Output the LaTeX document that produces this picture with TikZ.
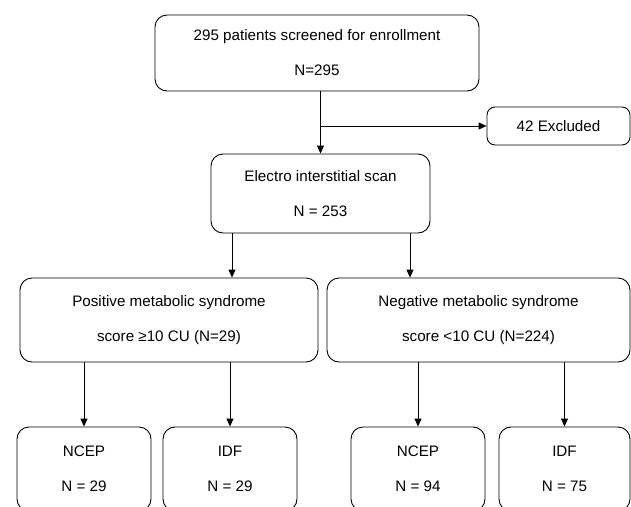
\documentclass[tikz,border=0pt]{standalone}
\usepackage{fontspec}
\setmainfont{Liberation Sans}
\usetikzlibrary{arrows.meta}
\usetikzlibrary{calc}

\begin{document}
\begin{tikzpicture}[x=1pt, y=-1pt,
  box/.style={draw, rounded corners=12pt, line width=.9pt, align=center, inner sep=0pt,
              font=\fontsize{15.2}{17.5}\selectfont},
  flow/.style={->, >={Triangle[length=8pt,width=7pt]}, line width=.9pt}]
\useasboundingbox (0,0) rectangle (631,506);
% screening
\node[box, minimum width=324pt, minimum height=76pt] (screen) at (317,53)
  {295 patients screened for enrollment\\[17.5pt]N=295};
\node[box, rounded corners=8pt, minimum width=143pt, minimum height=38pt] (excl) at (558.5,126)
  {42 Excluded};
\node[box, minimum width=219pt, minimum height=79pt] (scan) at (320.5,193.5)
  {Electro interstitial scan\\[17.5pt]N = 253};
% syndrome score
\node[box, minimum width=298pt, minimum height=84pt] (pos) at (169,320)
  {Positive metabolic syndrome\\[17.5pt]score ≥10 CU (N=29)};
\node[box, minimum width=303pt, minimum height=84pt] (neg) at (478.5,320)
  {Negative metabolic syndrome\\[17.5pt]score <10 CU (N=224)};
% criteria
\node[box, minimum width=134pt, minimum height=84pt] (ncepA) at (84,469)  {NCEP\\[17.5pt]N = 29};
\node[box, minimum width=134pt, minimum height=84pt] (idfA)  at (230,469) {IDF\\[17.5pt]N = 29};
\node[box, minimum width=134pt, minimum height=84pt] (ncepB) at (418,469) {NCEP\\[17.5pt]N = 94};
\node[box, minimum width=131pt, minimum height=84pt] (idfB)  at (564.5,469) {IDF\\[17.5pt]N = 75};

\draw[flow] (screen.south -| scan.north) -- (scan.north);
\draw[flow] (excl.west -| scan.north) -- (excl.west);
\draw[flow] ([xshift=-88.5pt]scan.south) -- ([xshift=-88.5pt]scan.south |- pos.north);
\draw[flow] ([xshift=89.5pt]scan.south) -- ([xshift=89.5pt]scan.south |- neg.north);
\foreach \c/\p in {ncepA/pos, idfA/pos, ncepB/neg, idfB/neg}
  \draw[flow] (\c.north |- \p.south) -- (\c.north);
\end{tikzpicture}
\end{document}
